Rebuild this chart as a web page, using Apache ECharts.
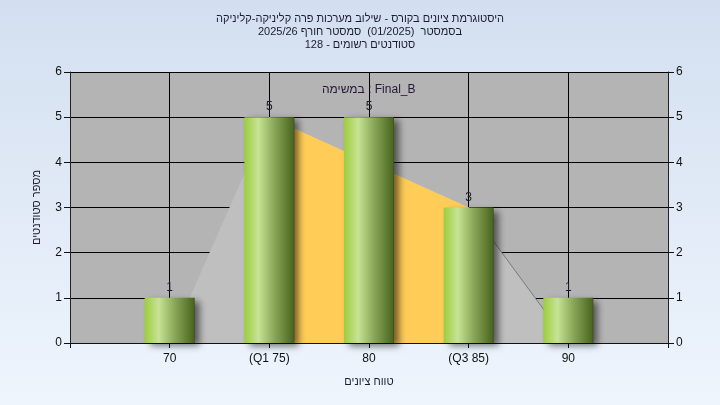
<!DOCTYPE html>
<html>
<head>
<meta charset="utf-8">
<script src="https://cdn.jsdelivr.net/npm/echarts@6/dist/echarts.min.js"></script>
<style>
  html, body { margin: 0; padding: 0; }
  #chart { width: 720px; height: 405px; }
</style>
</head>
<body>
<div id="chart"></div>
<script>
// histogram data
var gradeValues = [70, 75, 80, 85, 90]
var gradeLabels = ['70', '(Q1 75)', '80', '(Q3 85)', '90']
var studentCounts = [1, 5, 5, 3, 1]

// min / Q1 / Q3 / max outline behind the bars
var outlineX = [70, 75, 85, 90]
var outlineY = [0, 5, 3, 0]
var iqrX = [75, 85]
var iqrY = [5, 3]
var tailX = [85, 90]
var tailY = [3, 0]

var titleLines = [
  'היסטוגרמת ציונים בקורס - שילוב מערכות פרה קליניקה-קליניקה',
  'בסמסטר  (01/2025)  סמסטר חורף 2025/26',
  'סטודנטים רשומים - 128'
]
var seriesName = 'במשימה : Final_B'
var xName = 'טווח ציונים'
var yName = 'מספר סטודנטים'

var font = '"Liberation Sans", "DejaVu Sans", sans-serif'

function pairs(xs, ys) {
  return xs.map(function(x, i) { return [x, ys[i]] })
}

var chart = echarts.init(document.getElementById('chart'))

var yAxisBase = {
  type: 'value',
  min: 0,
  max: 6,
  interval: 1,
  axisLine: { show: true, lineStyle: { color: '#222', width: 1 } },
  axisTick: { show: true, length: 6, lineStyle: { color: '#111' } },
  axisLabel: { color: '#111', fontSize: 12, fontFamily: font, margin: 8 }
}

var option = {
  backgroundColor: new echarts.graphic.LinearGradient(0, 0, 0, 1, [
    { offset: 0, color: '#d3dff0' },
    { offset: 1, color: '#eef5fd' }
  ]),
  animation: false,
  title: {
    text: titleLines.join('\n'),
    left: 'center',
    top: 7,
    textStyle: {
      fontSize: 11,
      fontWeight: 'normal',
      color: '#1c1c30',
      fontFamily: font,
      lineHeight: 13
    }
  },
  legend: {
    data: [{ name: seriesName, icon: 'none' }],
    left: 312,
    top: 79,
    itemWidth: 0,
    itemHeight: 0,
    textStyle: { fontSize: 12, color: '#26183a', fontFamily: font }
  },
  grid: {
    left: 70,
    right: 52,
    top: 72,
    bottom: 62,
    show: true,
    backgroundColor: '#b4b4b4',
    borderWidth: 0
  },
  xAxis: {
    type: 'value',
    min: 65,
    max: 95,
    interval: 5,
    name: xName,
    nameLocation: 'middle',
    nameGap: 33,
    nameTextStyle: { fontSize: 11, color: '#1c1c30', fontFamily: font },
    axisLine: { show: true, onZero: false, lineStyle: { color: '#111', width: 1 } },
    axisTick: { show: true, length: 5, lineStyle: { color: '#111' } },
    axisLabel: {
      color: '#111',
      fontSize: 12,
      fontFamily: font,
      margin: 10,
      formatter: function(v) {
        var i = gradeValues.indexOf(v)
        return i >= 0 ? gradeLabels[i] : ''
      }
    },
    splitLine: { show: true, lineStyle: { color: '#000', width: 1 } }
  },
  yAxis: [
    Object.assign({}, yAxisBase, {
      position: 'left',
      name: yName,
      nameLocation: 'middle',
      nameGap: 28,
      nameRotate: 90,
      nameTextStyle: { fontSize: 11, color: '#1c1c30', fontFamily: font },
      splitLine: { show: true, lineStyle: { color: '#000', width: 1 } }
    }),
    Object.assign({}, yAxisBase, {
      position: 'right',
      splitLine: { show: false }
    })
  ],
  series: [
    {
      type: 'line',
      z: 1,
      data: pairs(outlineX, outlineY),
      symbol: 'none',
      lineStyle: { width: 0 },
      areaStyle: { color: '#bfbfbf', opacity: 1 },
      silent: true
    },
    {
      type: 'line',
      z: 1,
      data: pairs(iqrX, iqrY),
      symbol: 'none',
      lineStyle: { width: 0 },
      areaStyle: { color: '#ffcc57', opacity: 1 },
      silent: true
    },
    {
      type: 'line',
      z: 1,
      data: pairs(tailX, tailY),
      symbol: 'none',
      lineStyle: { width: 1, color: '#7a7a7a' },
      silent: true
    },
    {
      name: seriesName,
      type: 'bar',
      z: 5,
      data: pairs(gradeValues, studentCounts),
      barWidth: 50,
      itemStyle: {
        color: new echarts.graphic.LinearGradient(0, 0, 1, 0, [
          { offset: 0, color: '#9dcd3d' },
          { offset: 0.28, color: '#c7e394' },
          { offset: 0.6, color: '#8aa758' },
          { offset: 0.97, color: '#4c6821' },
          { offset: 1, color: '#3a4d18' }
        ]),
        shadowColor: 'rgba(0, 0, 0, 0.55)',
        shadowBlur: 7,
        shadowOffsetX: 5,
        shadowOffsetY: 3
      },
      label: {
        show: true,
        position: 'top',
        distance: 4,
        color: '#1a1a2a',
        fontSize: 12,
        fontFamily: font,
        formatter: function(p) { return p.value[1] }
      }
    }
  ]
}

chart.setOption(option)
</script>
</body>
</html>
